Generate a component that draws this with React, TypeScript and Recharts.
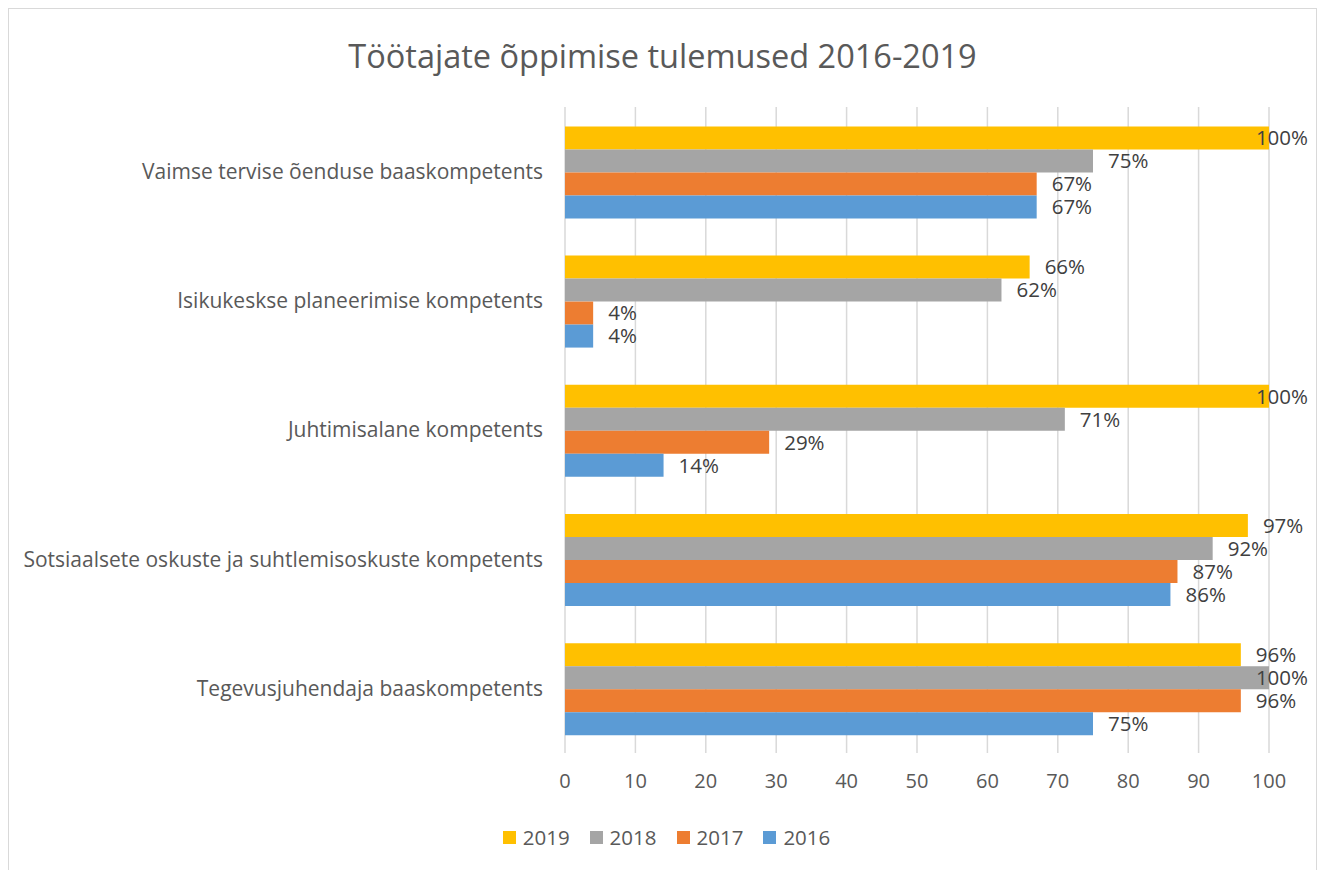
import { Bar, BarChart, CartesianGrid, LabelList, Legend, XAxis, YAxis } from "recharts";

const categories = [
  "Vaimse tervise õenduse baaskompetents",
  "Isikukeskse planeerimise kompetents",
  "Juhtimisalane kompetents",
  "Sotsiaalsete oskuste ja suhtlemisoskuste kompetents",
  "Tegevusjuhendaja baaskompetents",
];
const values2019 = [100, 66, 100, 97, 96];
const values2018 = [75, 62, 71, 92, 100];
const values2017 = [67, 4, 29, 87, 96];
const values2016 = [67, 4, 14, 86, 75];
const xTicks = [0, 10, 20, 30, 40, 50, 60, 70, 80, 90, 100];

const series = [
  { key: "y2019", name: "2019", color: "#FFC000" },
  { key: "y2018", name: "2018", color: "#A5A5A5" },
  { key: "y2017", name: "2017", color: "#ED7D31" },
  { key: "y2016", name: "2016", color: "#5B9BD5" },
];

const data = categories.map((name, i) => ({
  name,
  y2019: values2019[i],
  y2018: values2018[i],
  y2017: values2017[i],
  y2016: values2016[i],
}));

const FONT = "'Open Sans', 'Noto Sans', sans-serif";
const TEXT = "#595959";
const LABEL_LIMIT = 1299; // right edge data labels may reach (svg coords)

function ValueLabel(props: any) {
  const { x, y, width, height, value } = props;
  const text = `${value}%`;
  const est = text.length * 12.5;
  let lx = Number(x) + Number(width) + 15;
  let anchor: "start" | "end" = "start";
  if (lx + est > LABEL_LIMIT) {
    lx = LABEL_LIMIT;
    anchor = "end";
  }
  return (
    <text
      x={lx}
      y={Number(y) + Number(height) / 2}
      dy="0.36em"
      textAnchor={anchor}
      fontSize={20.5}
      fontFamily={FONT}
      fill="#404040"
    >
      {text}
    </text>
  );
}

function LegendContent() {
  return (
    <div style={{ display: "flex", justifyContent: "center", gap: 20, fontFamily: FONT, fontSize: 20.5, color: TEXT, paddingLeft: 8 }}>
      {series.map((s) => (
        <div key={s.key} style={{ display: "flex", alignItems: "center", gap: 7 }}>
          <span style={{ width: 13, height: 13, background: s.color, display: "inline-block" }} />
          <span>{s.name}</span>
        </div>
      ))}
    </div>
  );
}

export default function App() {
  return (
    <div
      style={{
        position: "relative",
        width: 1307,
        height: 870,
        border: "1px solid #d9d9d9",
        background: "#fff",
      }}
    >
      <div
        style={{
          position: "absolute",
          top: 24,
          left: 0,
          width: 1307,
          textAlign: "center",
          fontFamily: FONT,
          fontSize: 32.5,
          color: TEXT,
        }}
      >
        Töötajate õppimise tulemused 2016-2019
      </div>
      <BarChart
        width={1307}
        height={870}
        data={data}
        layout="vertical"
        margin={{ top: 98, right: 47, left: 16, bottom: 68 }}
        barCategoryGap="15%"
        barGap={0}
      >
        <CartesianGrid vertical horizontal={false} stroke="#d9d9d9" strokeWidth={1.5} />
        <XAxis
          type="number"
          domain={[0, 100]}
          ticks={xTicks}
          axisLine={false}
          tickLine={false}
          tickMargin={15}
          height={30}
          tick={{ fontSize: 20, fill: TEXT, fontFamily: FONT }}
        />
        <YAxis
          type="category"
          dataKey="name"
          width={540}
          axisLine={false}
          tickLine={false}
          tickMargin={16}
          tick={{ fontSize: 21, fill: TEXT, fontFamily: FONT }}
        />
        <Legend
          content={<LegendContent />}
          wrapperStyle={{ position: "absolute", top: 814, left: 0, width: 1307 }}
        />
        {series.map((s) => (
          <Bar key={s.key} dataKey={s.key} name={s.name} fill={s.color} isAnimationActive={false}>
            <LabelList dataKey={s.key} content={<ValueLabel />} />
          </Bar>
        ))}
      </BarChart>
    </div>
  );
}
